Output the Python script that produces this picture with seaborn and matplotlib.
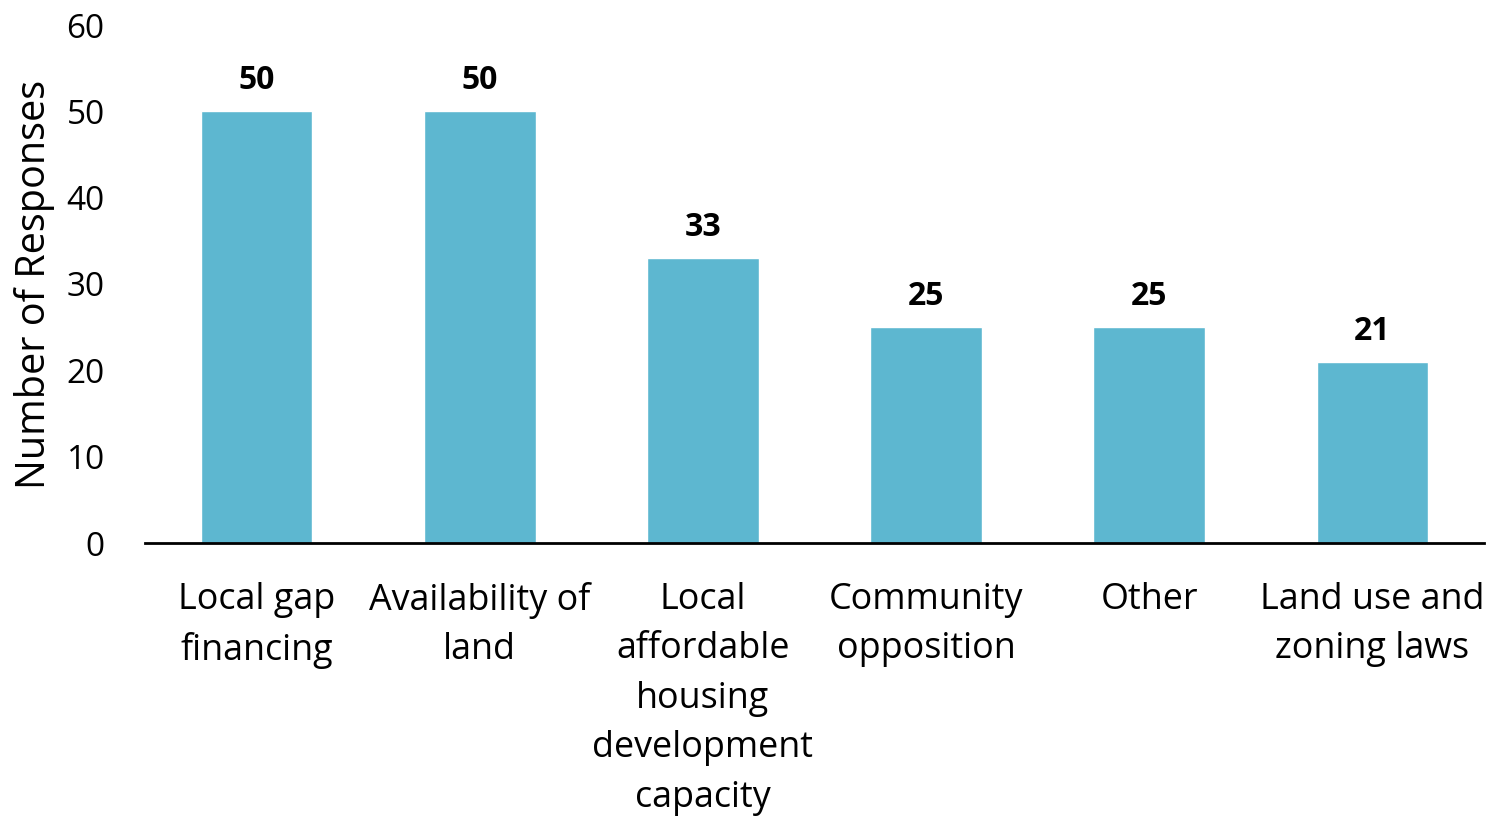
import matplotlib
matplotlib.use("Agg")
import matplotlib.pyplot as plt
import seaborn as sns
import pandas as pd

categories = [
    "Local gap\nfinancing",
    "Availability of\nland",
    "Local\naffordable\nhousing\ndevelopment\ncapacity",
    "Community\nopposition",
    "Other",
    "Land use and\nzoning laws",
]
responses = [50, 50, 33, 25, 25, 21]
y_ticks = [0, 10, 20, 30, 40, 50, 60]

sns.set_theme(style="white")
plt.rcParams["font.family"] = ["Open Sans", "DejaVu Sans"]

df = pd.DataFrame({"category": categories, "responses": responses})

fig = plt.figure(figsize=(14.86, 8.17), dpi=100)
ax = fig.add_axes([145 / 1486, 1 - 543 / 817, (1484 - 145) / 1486, (543 - 25) / 817])

sns.barplot(data=df, x="category", y="responses", color="#5DB7D0",
            saturation=1, width=0.5, ax=ax)

for i, v in enumerate(responses):
    ax.text(i, v + 2.55, f"{v}", ha="center", va="baseline",
            fontsize=23, fontweight="bold", color="black")

ax.set_ylim(0, 60)
ax.set_xlim(-0.5, len(categories) - 0.5)
ax.set_yticks(y_ticks)
ax.tick_params(axis="y", labelsize=24, length=0, pad=29, colors="black")
ax.tick_params(axis="x", labelsize=25.8, length=0, pad=28, colors="black")
for lbl in ax.get_xticklabels():
    lbl.set_linespacing(1.5)
ax.set_xlabel("")
ax.set_ylabel("Number of Responses", fontsize=28.5, color="black", labelpad=8)

for side in ["top", "right", "left"]:
    ax.spines[side].set_visible(False)
ax.spines["bottom"].set_color("black")
ax.spines["bottom"].set_linewidth(2)

fig.savefig("out.png", dpi=100)
